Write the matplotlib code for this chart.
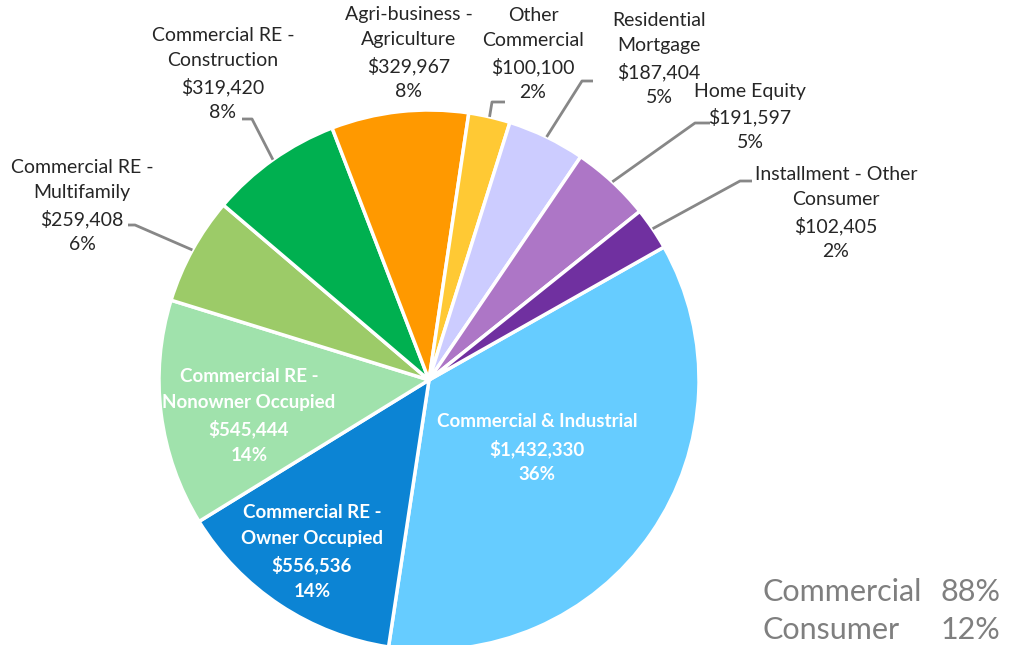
import matplotlib.pyplot as plt
import numpy as np

plt.rcParams['font.family'] = ['Lato', 'DejaVu Sans']

# loan portfolio, in order clockwise from Commercial & Industrial
names = ["Commercial & Industrial", "Commercial RE -\nOwner Occupied",
         "Commercial RE -\nNonowner Occupied", "Commercial RE -\nMultifamily",
         "Commercial RE -\nConstruction", "Agri-business -\nAgriculture",
         "Other\nCommercial", "Residential\nMortgage", "Home Equity",
         "Installment - Other\nConsumer"]
values = [1432330, 556536, 545444, 259408, 319420, 329967, 100100, 187404, 191597, 102405]
pcts = [36, 14, 14, 6, 8, 8, 2, 5, 5, 2]
colors = ["#66CCFF", "#0C84D4", "#A0E2AC", "#9CCB68", "#00B050", "#FF9900",
          "#FFC934", "#CCCCFF", "#AD76C6", "#7030A0"]
inside = [True, True, True, False, False, False, False, False, False, False]

group_names = ["Commercial", "Consumer"]
group_pcts = [88, 12]

W, H = 1010, 645
def py(y):
    return H - y

fig = plt.figure(figsize=(10.1, 6.45), dpi=100)
ax = fig.add_axes([0, 0, 1, 1])

cx, cy, r = 429, py(380), 270
wedges, _ = ax.pie(values, colors=colors, startangle=29.5, counterclock=False,
                   center=(cx, cy), radius=r, frame=True,
                   wedgeprops=dict(edgecolor='white', linewidth=2.5))
ax.set_xlim(0, W)
ax.set_ylim(0, H)
ax.axis('off')

# label block centres (pixels) and leader elbows
label_pos = [(537, 448), (312, 552), (249, 416), (82, 206), (223, 74),
             (409, 53), (533, 54), (659, 59), (750, 117), (836, 213)]
elbows = [None, None, None, [(135, 225), (128, 225)], [(252, 119), (242, 119)],
          None, [(492, 102), (505, 102)], [(582, 81), (593, 81)],
          [(695, 123), (710, 123)], [(740, 181), (752, 181)]]

for w, name, v, p, (lx, ly), ins, el in zip(wedges, names, values, pcts,
                                             label_pos, inside, elbows):
    txt = f"{name}\n${v:,}\n{p}%"
    if ins:
        ax.text(lx, py(ly), txt, ha='center', va='center', color='white',
                fontsize=13.5, fontweight='bold', linespacing=1.58)
    else:
        ax.text(lx, py(ly), txt, ha='center', va='center', color='#262626',
                fontsize=14, linespacing=1.55)
    if el is not None:
        mid = np.radians((w.theta1 + w.theta2) / 2)
        xs = [cx + r * np.cos(mid)] + [e[0] for e in el]
        ys = [cy + r * np.sin(mid)] + [py(e[1]) for e in el]
        ax.plot(xs, ys, color='#878787', lw=2, solid_capstyle='butt')

for gname, gp, y in zip(group_names, group_pcts, [592, 630]):
    ax.text(763, py(y), gname, ha='left', va='center', color='#7F7F7F', fontsize=22)
    ax.text(1000, py(y), f"{gp}%", ha='right', va='center', color='#7F7F7F', fontsize=22)

fig.savefig("out.png", dpi=100)
